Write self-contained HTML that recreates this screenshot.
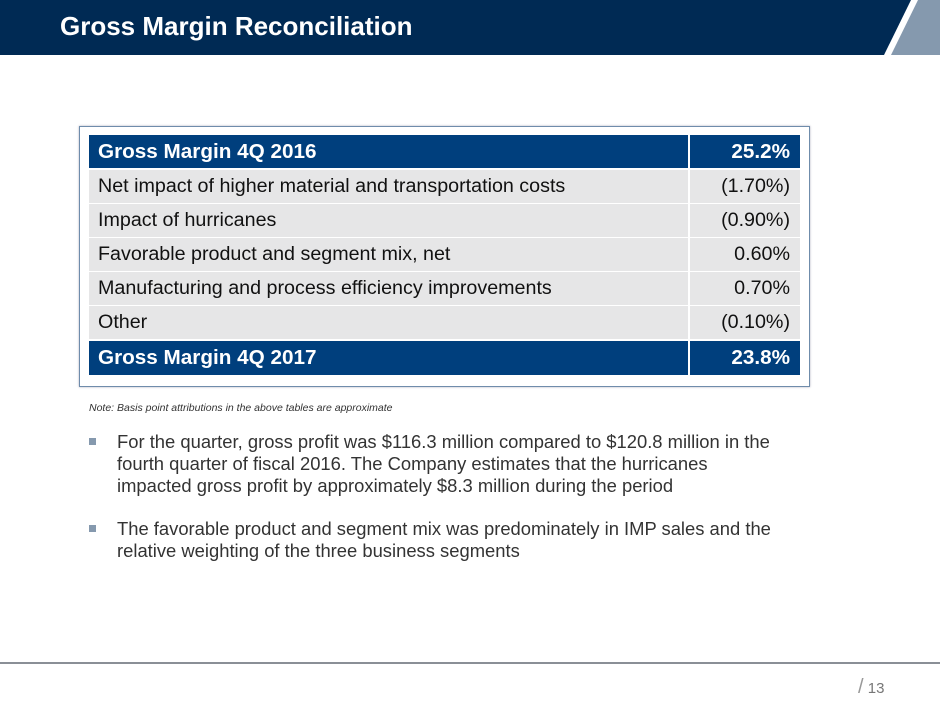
<!DOCTYPE html>
<html><head><meta charset="utf-8"><style>
body{margin:0;width:940px;height:705px;position:relative;background:#fff;font-family:"Liberation Sans",sans-serif;overflow:hidden}
.abs{position:absolute}
.row{position:absolute;left:89px;width:711px;height:33px;font-size:19.7px;line-height:33px}
.row .l{position:absolute;left:0;width:599px;height:100%;padding-left:9px;box-sizing:border-box;white-space:nowrap}
.row .r{position:absolute;left:601px;width:110px;height:100%;text-align:right;padding-right:10px;box-sizing:border-box}
.g .l,.g .r{background:#e6e6e7;color:#111}
.h .l,.h .r{background:#003f7d;color:#fff;font-weight:bold;font-size:20.7px}
.b{position:absolute;left:89px;width:720px;font-size:18.4px;line-height:22px;color:#333}
.b span{position:absolute;left:0;top:7px;width:7px;height:7px;background:#8599ae}
.b div{margin-left:28px;width:680px}
</style></head><body>
<svg class="abs" style="left:0;top:0" width="940" height="56">
<polygon points="0,0 911,0 884,55 0,55" fill="#002a54"/>
<polygon points="918,0 940,0 940,55 891,55" fill="#8599ae"/>
</svg>
<div class="abs" style="left:60px;top:11px;color:#fff;font-size:26px;font-weight:bold">Gross Margin Reconciliation</div>
<div class="abs" style="left:79px;top:126px;width:729px;height:259px;border:1.5px solid #6f8cab;box-shadow:0 0 2px #aab"></div>
<div class="row h" style="top:135px"><div class="l">Gross Margin 4Q 2016</div><div class="r">25.2%</div></div>
<div class="row g" style="top:170px"><div class="l">Net impact of higher material and transportation costs</div><div class="r">(1.70%)</div></div>
<div class="row g" style="top:204px"><div class="l">Impact of hurricanes</div><div class="r">(0.90%)</div></div>
<div class="row g" style="top:238px"><div class="l">Favorable product and segment mix, net</div><div class="r">0.60%</div></div>
<div class="row g" style="top:272px"><div class="l">Manufacturing and process efficiency improvements</div><div class="r">0.70%</div></div>
<div class="row g" style="top:306px"><div class="l">Other</div><div class="r">(0.10%)</div></div>
<div class="row h" style="top:341px;height:34px"><div class="l">Gross Margin 4Q 2017</div><div class="r">23.8%</div></div>
<div class="abs" style="left:89px;top:402px;font-size:10.5px;font-style:italic;color:#333">Note: Basis point attributions in the above tables are approximate</div>
<div class="b" style="top:431px"><span></span>
<div>For the quarter, gross profit was $116.3 million compared to $120.8 million in the<br>fourth quarter of fiscal 2016. The Company estimates that the hurricanes<br>impacted gross profit by approximately $8.3 million during the period</div></div>
<div class="b" style="top:518px"><span></span>
<div>The favorable product and segment mix was predominately in IMP sales and the<br>relative weighting of the three business segments</div></div>
<div class="abs" style="left:0;top:662px;width:940px;height:2px;background:#8a8f96"></div>
<div class="abs" style="left:858px;top:676px;font-size:15px;color:#777"><span style="font-size:20px;font-weight:lighter;color:#999">/</span> 13</div>
</body></html>
